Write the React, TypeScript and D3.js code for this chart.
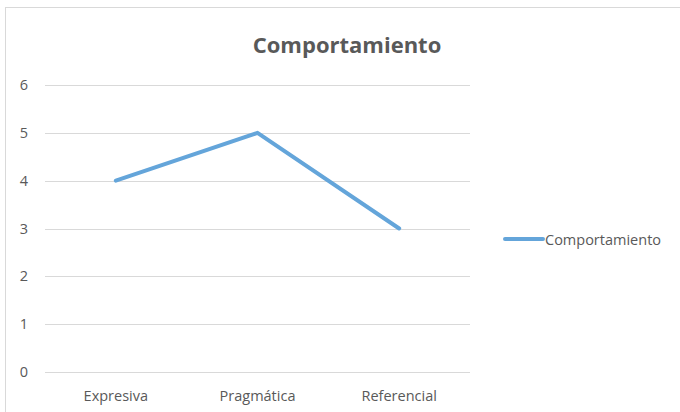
import React from "react";
import * as d3 from "d3";

const categories = ["Expresiva", "Pragmática", "Referencial"];
const values = [4, 5, 3];
const yTicks = [0, 1, 2, 3, 4, 5, 6];
const seriesName = "Comportamiento";
const title = "Comportamiento";

export default function App() {
  const width = 680;
  const height = 412;
  const x = d3.scaleBand<string>().domain(categories).range([45, 470]);
  const y = d3.scaleLinear().domain([0, 6]).range([372, 85]);
  const line = d3
    .line<number>()
    .x((_, i) => (x(categories[i]) as number) + x.bandwidth() / 2)
    .y((d) => y(d));
  const font = "'Open Sans', 'DejaVu Sans', sans-serif";
  const textColor = "#595959";
  const seriesColor = "#64A5DA";

  return (
    <svg
      width={width}
      height={height}
      style={{ position: "absolute", left: 0, top: 0, background: "#fff" }}
      fontFamily={font}
    >
      <rect x={5.5} y={7.5} width={700} height={420} fill="#fff" stroke="#d9d9d9" strokeWidth={1} />
      <text x={347} y={53} textAnchor="middle" fontSize={22} fontWeight="bold" fill={textColor}>
        {title}
      </text>
      {yTicks.map((t) => (
        <g key={t}>
          <line x1={45} x2={470} y1={Math.round(y(t)) + 0.5} y2={Math.round(y(t)) + 0.5} stroke="#d9d9d9" strokeWidth={1} />
          <text x={24} y={y(t) + 5} textAnchor="middle" fontSize={14.5} fill={textColor}>
            {t}
          </text>
        </g>
      ))}
      {categories.map((c) => (
        <text
          key={c}
          x={(x(c) as number) + x.bandwidth() / 2}
          y={401}
          textAnchor="middle"
          fontSize={14.5}
          fill={textColor}
        >
          {c}
        </text>
      ))}
      <path d={line(values) || ""} fill="none" stroke={seriesColor} strokeWidth={4} strokeLinejoin="round" strokeLinecap="round" />
      <line x1={505} x2={543} y1={239} y2={239} stroke={seriesColor} strokeWidth={4} strokeLinecap="round" />
      <text x={545} y={244.5} fontSize={14.5} fill={textColor}>
        {seriesName}
      </text>
    </svg>
  );
}
